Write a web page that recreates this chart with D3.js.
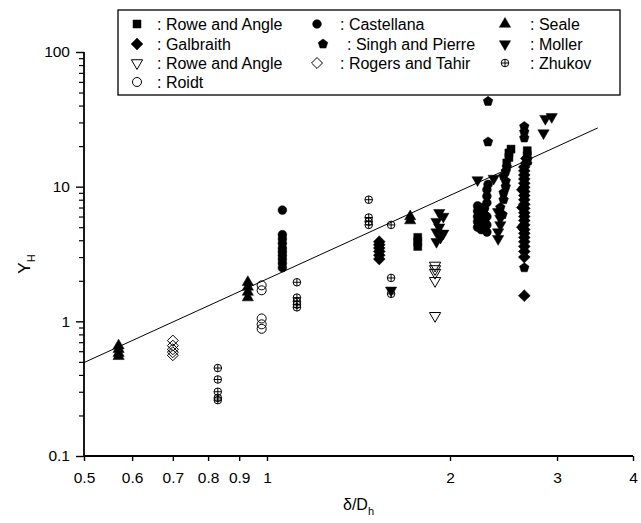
<!DOCTYPE html>
<html>
<head>
<meta charset="utf-8">
<script src="https://cdn.jsdelivr.net/npm/d3@7"></script>
<style>
  body { margin: 0; background: #fff; }
  svg { display: block; font-family: Arial, "Liberation Sans", sans-serif; }
</style>
</head>
<body>
<div id="chart"></div>
<script>
// data: [delta/Dh, Y_H]
const roweSquare = [[1.77, 3.6], [1.77, 3.9], [1.77, 4.2], [2.48, 15], [2.5, 16.5], [2.5, 17.8],
  [2.52, 19], [2.68, 15.5], [2.68, 17], [2.68, 18.5]]
const castellana = [[1.06, 6.7], [1.06, 4.4], [1.06, 4.1], [1.06, 3.8], [1.06, 3.5], [1.06, 3.3],
  [1.06, 3.1], [1.06, 2.9], [1.06, 2.7], [1.06, 2.5],
  [2.22, 5.0], [2.22, 5.5], [2.22, 6.0], [2.22, 6.6], [2.22, 7.2], [2.25, 4.8], [2.25, 5.3],
  [2.25, 5.9], [2.25, 6.4], [2.25, 7.0], [2.28, 5.0], [2.28, 5.6], [2.28, 6.2], [2.28, 6.9],
  [2.3, 4.6], [2.3, 5.2], [2.3, 6.0], [2.3, 7.6], [2.3, 8.5], [2.3, 9.5], [2.31, 10.4]]
const seale = [[0.57, 0.55], [0.57, 0.58], [0.57, 0.62], [0.57, 0.66],
  [0.93, 1.5], [0.93, 1.65], [0.93, 1.8], [0.93, 1.95], [1.72, 5.6], [1.72, 6.0]]
const galbraith = [[1.53, 2.9], [1.53, 3.1], [1.53, 3.3], [1.53, 3.5], [1.53, 3.7], [1.53, 3.9],
  [2.65, 1.55], [2.65, 3.0], [2.65, 3.3], [2.65, 3.6], [2.65, 3.9], [2.65, 4.2], [2.65, 4.5],
  [2.65, 4.8], [2.65, 5.2], [2.65, 5.6], [2.65, 6.0], [2.65, 6.4], [2.65, 6.9], [2.65, 7.4],
  [2.65, 8.0], [2.65, 8.6], [2.65, 9.2], [2.65, 9.9], [2.65, 10.6], [2.65, 11.4], [2.65, 12.2],
  [2.65, 13.1], [2.65, 14.0], [2.67, 15.0], [2.67, 16.2], [2.63, 5.0], [2.63, 7.0], [2.63, 9.5]]
const singh = [[2.31, 43], [2.31, 21.5], [2.65, 28], [2.65, 25.5], [2.65, 23], [2.65, 2.5],
  [2.42, 7.0], [2.45, 8.0], [2.45, 9.0], [2.47, 10.0], [2.47, 11.0], [2.45, 12.0], [2.47, 13.0],
  [2.48, 14.0], [2.44, 6.2]]
const moller = [[1.6, 1.7], [1.92, 6.4], [1.95, 6.0], [1.9, 5.5], [1.92, 5.0], [1.9, 4.6],
  [1.93, 4.2], [1.9, 3.9], [1.95, 4.5], [2.22, 11.2], [2.4, 4.1], [2.4, 4.6], [2.42, 5.2],
  [2.42, 5.8], [2.4, 6.5], [2.36, 11.5], [2.85, 25], [2.87, 32], [2.94, 33]]
const roweTriangle = [[1.89, 2.6], [1.89, 2.45], [1.89, 2.3], [1.89, 2.0], [1.89, 1.1]]
const rogers = [[0.7, 0.56], [0.7, 0.59], [0.7, 0.62], [0.7, 0.66], [0.7, 0.72]]
const zhukov = [[0.83, 0.45], [0.83, 0.37], [0.83, 0.3], [0.83, 0.27], [0.83, 0.26],
  [1.12, 1.95], [1.12, 1.5], [1.12, 1.4], [1.12, 1.33], [1.12, 1.27],
  [1.47, 8.0], [1.47, 5.9], [1.47, 5.5], [1.47, 5.2], [1.6, 5.2], [1.6, 2.1], [1.6, 1.6]]
const roidt = [[0.98, 1.85], [0.98, 1.7], [0.98, 1.05], [0.98, 0.95], [0.98, 0.88]]

// correlation line ends
const fitLine = [[0.5, 0.494], [3.5, 27.3]]

const xTicks = [0.5, 0.6, 0.7, 0.8, 0.9, 1, 2, 3, 4]
const yMajor = [0.1, 1, 10, 100]

const width = 641
const height = 523

// custom marker shapes
const pentagon = {
  draw(ctx, size) {
    const r = Math.sqrt(size / 2.378)
    for (let k = 0; k < 5; k++) {
      const a = -Math.PI / 2 + k * 2 * Math.PI / 5
      k ? ctx.lineTo(r * Math.cos(a), r * Math.sin(a)) : ctx.moveTo(r * Math.cos(a), r * Math.sin(a))
    }
    ctx.closePath()
  }
}
const circlePlus = {
  draw(ctx, size) {
    const r = Math.sqrt(size / Math.PI)
    ctx.moveTo(r, 0)
    ctx.arc(0, 0, r, 0, 2 * Math.PI)
    ctx.moveTo(-r, 0); ctx.lineTo(r, 0)
    ctx.moveTo(0, -r); ctx.lineTo(0, r)
  }
}
const diamond = {
  draw(ctx, size) {
    const r = Math.sqrt(size / 2)
    ctx.moveTo(0, -r); ctx.lineTo(r, 0); ctx.lineTo(0, r); ctx.lineTo(-r, 0)
    ctx.closePath()
  }
}

const series = [
  { name: 'Rowe and Angle', data: roweSquare, type: d3.symbolSquare, size: 64, filled: true, col: 0, row: 0 },
  { name: 'Castellana', data: castellana, type: d3.symbolCircle, size: 60, filled: true, col: 1, row: 0 },
  { name: 'Seale', data: seale, type: d3.symbolTriangle, size: 55, filled: true, col: 2, row: 0 },
  { name: 'Galbraith', data: galbraith, type: diamond, size: 70, filled: true, col: 0, row: 1 },
  { name: 'Singh and Pierre', data: singh, type: pentagon, size: 60, filled: true, col: 1, row: 1, dx: 6, tdx: 7 },
  { name: 'Moller', data: moller, type: d3.symbolTriangle, size: 55, filled: true, col: 2, row: 1, flip: true },
  { name: 'Rowe and Angle', data: roweTriangle, type: d3.symbolTriangle, size: 55, filled: false, col: 0, row: 2, flip: true },
  { name: 'Rogers and Tahir', data: rogers, type: diamond, size: 60, filled: false, col: 1, row: 2 },
  { name: 'Zhukov', data: zhukov, type: circlePlus, size: 45, filled: false, col: 2, row: 2 },
  { name: 'Roidt', data: roidt, type: d3.symbolCircle, size: 64, filled: false, col: 0, row: 3 }
]

const x = d3.scaleLog().domain([0.5, 4]).range([84, 633])
const y = d3.scaleLog().domain([0.1, 100]).range([456, 52])

const svg = d3.select('#chart').append('svg')
  .attr('width', width)
  .attr('height', height)

// y minor ticks
const yMinor = []
for (let e = -1; e < 2; e++) {
  for (let m = 2; m < 10; m++) yMinor.push(m * Math.pow(10, e))
}
svg.append('g')
  .attr('transform', `translate(${x(0.5)},0)`)
  .call(d3.axisLeft(y).tickValues(yMinor).tickSize(5).tickFormat(''))
  .call(g => g.select('.domain').remove())
  .call(g => g.selectAll('line').attr('stroke-width', 1.2))

svg.append('g')
  .attr('transform', `translate(${x(0.5)},0)`)
  .call(d3.axisLeft(y).tickValues(yMajor).tickSize(8).tickPadding(6)
    .tickFormat(d => String(d)))
  .call(g => g.select('.domain').attr('d', `M0,${y(0.1)}V${y(100)}`).attr('stroke-width', 1.8))
  .call(g => g.selectAll('line').attr('stroke-width', 1.4))
  .call(g => g.selectAll('text').attr('font-size', 15.5).attr('fill', '#000')
    .style('font-family', 'Arial, "Liberation Sans", sans-serif'))

svg.append('g')
  .attr('transform', `translate(0,${y(0.1)})`)
  .call(d3.axisBottom(x).tickValues(xTicks).tickSize(5).tickPadding(11)
    .tickFormat(d => String(d)))
  .call(g => g.select('.domain').attr('d', `M${x(0.5)},0H${x(4)}`).attr('stroke-width', 1.8))
  .call(g => g.selectAll('line').attr('stroke-width', 1.4))
  .call(g => g.selectAll('text').attr('font-size', 15.5).attr('fill', '#000')
    .style('font-family', 'Arial, "Liberation Sans", sans-serif'))

// axis titles
svg.append('text')
  .attr('x', (x(0.5) + x(4)) / 2)
  .attr('y', 510)
  .attr('text-anchor', 'middle')
  .attr('font-size', 16)
  .text('δ/D')
  .append('tspan')
  .attr('font-size', 11)
  .attr('dy', 5)
  .text('h')

svg.append('text')
  .attr('transform', `translate(30,264) rotate(-90)`)
  .attr('text-anchor', 'middle')
  .attr('font-size', 17)
  .text('Y')
  .append('tspan')
  .attr('font-size', 11)
  .attr('dy', 5)
  .text('H')

// fit line
svg.append('path')
  .datum(fitLine)
  .attr('fill', 'none')
  .attr('stroke', '#000')
  .attr('stroke-width', 1)
  .attr('d', d3.line().x(d => x(d[0])).y(d => y(d[1])))

// points
const plot = svg.append('g')
series.forEach(s => {
  const sym = d3.symbol().type(s.type).size(s.size)
  plot.selectAll(null)
    .data(s.data)
    .join('path')
    .attr('transform', d => `translate(${x(d[0])},${y(d[1])})${s.flip ? ' rotate(180)' : ''}`)
    .attr('d', sym)
    .attr('fill', s.filled ? '#000' : '#fff')
    .attr('fill-opacity', s.filled ? 1 : 0)
    .attr('stroke', '#000')
    .attr('stroke-width', s.filled ? 0.5 : 1)
})

// legend
const legend = svg.append('g')
legend.append('rect')
  .attr('x', 118).attr('y', 10)
  .attr('width', 502).attr('height', 85)
  .attr('fill', '#fff')
  .attr('stroke', '#000')
  .attr('stroke-width', 1.3)

const colMarker = [137, 317, 505]
const colText = [157, 340, 530]
const rowY = [24, 44, 63, 82]

series.forEach(s => {
  const sym = d3.symbol().type(s.type).size(s.size)
  const mx = colMarker[s.col] + (s.dx || 0)
  legend.append('path')
    .attr('transform', `translate(${mx},${rowY[s.row]})${s.flip ? ' rotate(180)' : ''}`)
    .attr('d', sym)
    .attr('fill', s.filled ? '#000' : '#fff')
    .attr('stroke', '#000')
    .attr('stroke-width', s.filled ? 0.5 : 1)
  legend.append('text')
    .attr('x', colText[s.col] + (s.tdx || 0))
    .attr('y', rowY[s.row])
    .attr('dy', '0.36em')
    .attr('font-size', 16)
    .text(': ' + s.name)
})
</script>
</body>
</html>
